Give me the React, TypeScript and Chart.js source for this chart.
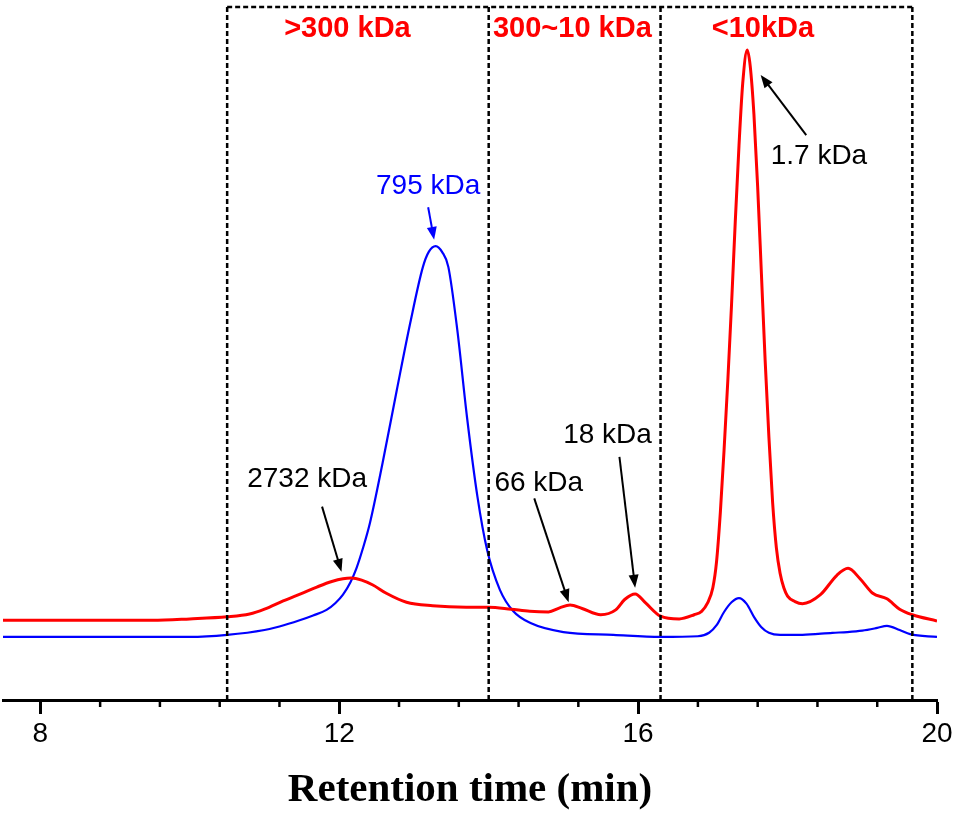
import { useEffect, useRef } from "react";
import { Chart, registerables } from "chart.js";

Chart.register(...registerables);

// GPC traces (retention time in min, signal in arbitrary units)
const redTime = [7.5, 8.5, 9.5, 10.0, 10.5, 10.8, 11.0, 11.25, 11.5, 11.7, 11.9, 12.05, 12.16, 12.3, 12.45, 12.63, 12.9, 13.25, 13.7, 14.0, 14.3, 14.55, 14.8, 14.95, 15.09, 15.25, 15.5, 15.7, 15.82, 15.96, 16.1, 16.3, 16.55, 16.75, 16.85, 16.93, 17.0, 17.05, 17.1, 17.15, 17.2, 17.25, 17.3, 17.35, 17.4, 17.46, 17.5, 17.55, 17.6, 17.65, 17.7, 17.75, 17.8, 17.85, 17.9, 17.95, 18.0, 18.1, 18.2, 18.44, 18.66, 18.81, 18.97, 19.14, 19.33, 19.5, 19.67, 20.0];
const redSignal = [11.5, 11.5, 11.5, 11.7, 12.0, 12.4, 13.1, 14.3, 15.4, 16.3, 17.1, 17.5, 17.6, 17.3, 16.6, 15.4, 14.1, 13.6, 13.4, 13.4, 13.1, 12.8, 12.7, 13.3, 13.7, 13.2, 12.3, 13.0, 14.5, 15.3, 14.0, 12.1, 11.7, 12.3, 12.8, 14.0, 16.2, 20.0, 27, 36, 46, 57, 69, 80, 89, 93.8, 91.5, 84.5, 74, 61.5, 49, 38, 28.5, 22, 18.3, 16.2, 15.0, 14.2, 13.9, 15.2, 18.0, 19.0, 17.5, 15.4, 14.6, 13.1, 12.3, 11.4];

const blueTime = [7.5, 8.5, 9.5, 10.0, 10.5, 11.0, 11.2, 11.47, 11.65, 11.83, 11.95, 12.05, 12.15, 12.23, 12.32, 12.41, 12.58, 12.77, 12.95, 13.12, 13.2, 13.29, 13.38, 13.46, 13.58, 13.71, 13.85, 13.98, 14.15, 14.33, 14.56, 15.0, 15.67, 16.3, 16.8, 16.95, 17.05, 17.15, 17.25, 17.35, 17.45, 17.55, 17.65, 17.75, 17.9, 18.2, 18.6, 18.8, 19.0, 19.2, 19.33, 19.5, 19.64, 20.0];
const blueSignal = [9.1, 9.1, 9.1, 9.1, 9.4, 10.1, 10.6, 11.5, 12.2, 13.0, 14.0, 15.2, 17.0, 19.0, 22.0, 25.5, 34.2, 44.7, 54.4, 62.5, 64.7, 65.5, 64.6, 62.5, 53.4, 40.8, 29.3, 21.6, 15.9, 12.8, 11.1, 9.8, 9.4, 9.1, 9.2, 9.7, 10.8, 12.7, 14.1, 14.7, 13.9, 12.0, 10.5, 9.7, 9.4, 9.4, 9.7, 9.8, 10.0, 10.4, 10.7, 10.1, 9.5, 9.1];

// molecular weight fractions
const regionBounds = [10.5, 14.0, 16.3, 19.67];
const regionLabels = [">300 kDa", "300~10 kDa", "<10kDa"];
const regionLabelX = [12.11, 15.12, 17.67];

const majorTicks = [8, 12, 16, 20];
const minorTicks = [8.8, 9.6, 10.4, 11.2, 12.8, 13.6, 14.4, 15.2, 16.8, 17.6, 18.4, 19.2];

// peak callouts: text position and arrow, in data units
const callouts = [
  { text: "2732 kDa", color: "#000", at: [11.57, 31.9], from: [11.77, 27.9], to: [12.03, 18.5] },
  { text: "795 kDa", color: "#0000FF", at: [13.19, 74.2], from: [13.19, 71.1], to: [13.27, 66.4] },
  { text: "66 kDa", color: "#000", at: [14.67, 31.3], from: [14.61, 29.1], to: [15.07, 14.1] },
  { text: "18 kDa", color: "#000", at: [15.59, 38.2], from: [15.75, 35.1], to: [15.96, 16.2] },
  { text: "1.7 kDa", color: "#000", at: [18.42, 78.5], from: [18.25, 81.5], to: [17.64, 90.2] },
];

const drawArrow = (ctx: CanvasRenderingContext2D, x1: number, y1: number, x2: number, y2: number, color: string) => {
  const ang = Math.atan2(y2 - y1, x2 - x1);
  const len = 13;
  const half = 5;
  ctx.strokeStyle = color;
  ctx.fillStyle = color;
  ctx.lineWidth = 2;
  ctx.setLineDash([]);
  ctx.beginPath();
  ctx.moveTo(x1, y1);
  ctx.lineTo(x2 - Math.cos(ang) * len * 0.8, y2 - Math.sin(ang) * len * 0.8);
  ctx.stroke();
  ctx.beginPath();
  ctx.moveTo(x2, y2);
  ctx.lineTo(x2 - Math.cos(ang) * len - Math.sin(ang) * half, y2 - Math.sin(ang) * len + Math.cos(ang) * half);
  ctx.lineTo(x2 - Math.cos(ang) * len + Math.sin(ang) * half, y2 - Math.sin(ang) * len - Math.cos(ang) * half);
  ctx.closePath();
  ctx.fill();
};

const annotationPlugin = {
  id: "gpcAnnotations",
  afterDatasetsDraw(chart: any) {
    const { ctx, chartArea } = chart;
    const x = chart.scales.x;
    const y = chart.scales.y;
    ctx.save();

    // dashed fraction boxes
    ctx.strokeStyle = "#000";
    ctx.lineWidth = 2.5;
    ctx.setLineDash([5, 3]);
    regionBounds.forEach((b) => {
      const px = x.getPixelForValue(b);
      ctx.beginPath();
      ctx.moveTo(px, chartArea.bottom);
      ctx.lineTo(px, chartArea.top);
      ctx.stroke();
    });
    ctx.beginPath();
    ctx.moveTo(x.getPixelForValue(regionBounds[0]), chartArea.top);
    ctx.lineTo(x.getPixelForValue(regionBounds[regionBounds.length - 1]), chartArea.top);
    ctx.stroke();

    ctx.textAlign = "center";
    ctx.textBaseline = "middle";
    ctx.fillStyle = "#FF0000";
    ctx.font = "bold 29px 'Liberation Sans', Arial, sans-serif";
    regionLabels.forEach((t, i) => {
      ctx.fillText(t, x.getPixelForValue(regionLabelX[i]), y.getPixelForValue(96.8));
    });

    ctx.font = "28px 'Liberation Sans', Arial, sans-serif";
    callouts.forEach((c) => {
      ctx.fillStyle = c.color;
      ctx.fillText(c.text, x.getPixelForValue(c.at[0]), y.getPixelForValue(c.at[1]));
      drawArrow(
        ctx,
        x.getPixelForValue(c.from[0]),
        y.getPixelForValue(c.from[1]),
        x.getPixelForValue(c.to[0]),
        y.getPixelForValue(c.to[1]),
        c.color
      );
    });

    // minor ticks on the time axis
    ctx.strokeStyle = "#000";
    ctx.lineWidth = 2.5;
    ctx.setLineDash([]);
    minorTicks.forEach((v) => {
      const px = x.getPixelForValue(v);
      ctx.beginPath();
      ctx.moveTo(px, chartArea.bottom);
      ctx.lineTo(px, chartArea.bottom + 7);
      ctx.stroke();
    });
    ctx.restore();
  },
};

export default function App() {
  const chartRef = useRef<HTMLCanvasElement>(null);
  const chartInstanceRef = useRef<Chart | null>(null);

  useEffect(() => {
    if (!chartRef.current) return;
    if (chartInstanceRef.current) {
      chartInstanceRef.current.destroy();
    }
    document.body.style.margin = "0";

    const ctx = chartRef.current.getContext("2d");
    if (!ctx) return;

    chartInstanceRef.current = new Chart(ctx, {
      type: "line",
      data: {
        datasets: [
          {
            label: "red",
            data: redTime.map((t, i) => ({ x: t, y: redSignal[i] })),
            borderColor: "#FF0000",
            borderWidth: 3,
            pointRadius: 0,
            cubicInterpolationMode: "monotone",
          },
          {
            label: "blue",
            data: blueTime.map((t, i) => ({ x: t, y: blueSignal[i] })),
            borderColor: "#0000FF",
            borderWidth: 2.2,
            pointRadius: 0,
            cubicInterpolationMode: "monotone",
          },
        ],
      },
      options: {
        responsive: true,
        maintainAspectRatio: false,
        animation: false,
        layout: { padding: { left: 3, right: 20, top: 7, bottom: 0 } },
        plugins: {
          legend: { display: false },
          tooltip: { enabled: false },
        },
        scales: {
          x: {
            type: "linear",
            min: 7.5,
            max: 20,
            afterBuildTicks: (scale: any) => {
              scale.ticks = majorTicks.map((v) => ({ value: v }));
            },
            afterFit: (scale: any) => {
              scale.height = 116;
            },
            ticks: {
              color: "#000",
              padding: 3,
              font: { size: 28, family: "'Liberation Sans', Arial, sans-serif" },
              maxRotation: 0,
            },
            grid: {
              drawOnChartArea: false,
              drawTicks: true,
              tickLength: 14,
              tickWidth: 3,
              tickColor: "#000",
            },
            border: { display: true, color: "#000", width: 3 },
            title: {
              display: true,
              text: "Retention time (min)",
              color: "#000",
              font: { size: 41, weight: "bold", family: "'Liberation Serif', 'Times New Roman', serif" },
              padding: { top: 0, bottom: 1 },
            },
          },
          y: {
            display: false,
            min: 0,
            max: 100,
          },
        },
      },
      plugins: [annotationPlugin],
    });

    return () => {
      if (chartInstanceRef.current) {
        chartInstanceRef.current.destroy();
        chartInstanceRef.current = null;
      }
    };
  }, []);

  return (
    <div style={{ position: "relative", width: 957, height: 816, background: "#fff" }}>
      <canvas ref={chartRef} />
    </div>
  );
}
